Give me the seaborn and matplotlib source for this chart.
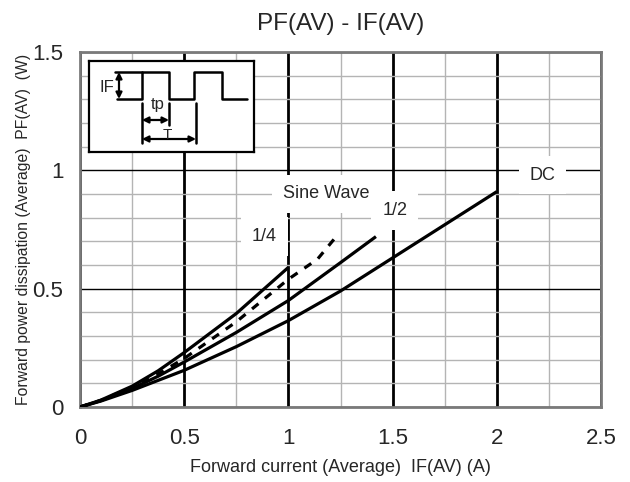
import matplotlib
matplotlib.use("Agg")
import matplotlib.pyplot as plt
import pandas as pd
import seaborn as sns
from matplotlib.ticker import FuncFormatter, MultipleLocator

# values
dc_x = [0, 0.1, 0.25, 0.5, 0.75, 1.0, 1.25, 1.5, 1.75, 2.0]
dc_y = [0, 0.025, 0.07, 0.155, 0.255, 0.365, 0.49, 0.63, 0.77, 0.91]

half_x = [0, 0.1, 0.25, 0.375, 0.5, 0.75, 1.0, 1.25, 1.42]
half_y = [0, 0.027, 0.078, 0.13, 0.19, 0.315, 0.45, 0.61, 0.72]

dashed_x = [0, 0.1, 0.25, 0.375, 0.5, 0.75, 1.0, 1.14, 1.22]
dashed_y = [0, 0.028, 0.083, 0.14, 0.205, 0.36, 0.54, 0.625, 0.71]

quarter_x = [0, 0.1, 0.25, 0.375, 0.5, 0.75, 1.0]
quarter_y = [0, 0.029, 0.088, 0.153, 0.23, 0.395, 0.59]

x_ticks = [0, 0.5, 1, 1.5, 2, 2.5]
y_ticks = [0, 0.5, 1, 1.5]

curve_labels = ["Sine Wave", "1/2", "1/4", "DC"]
label_x = [1.18, 1.51, 0.885, 2.22]
label_y = [0.90, 0.83, 0.72, 0.98]

sns.set_style("white")
plt.rcParams["font.family"] = ["Liberation Sans", "DejaVu Sans"]

fig = plt.figure(figsize=(6.3, 4.82), dpi=100)
ax = fig.add_axes([80 / 630, 1 - 407 / 482, 521 / 630, 355 / 482])

curves = [
    (dc_x, dc_y, "-"),
    (half_x, half_y, "-"),
    (dashed_x, dashed_y, (0, (2.6, 2.6))),
    (quarter_x, quarter_y, "-"),
]
for xs, ys, ls in curves:
    df = pd.DataFrame({"x": xs, "y": ys})
    sns.lineplot(data=df, x="x", y="y", ax=ax, color="black", lw=2.3,
                 linestyle=ls, solid_capstyle="butt", zorder=3, sort=False)

ax.set_xlim(0, 2.5)
ax.set_ylim(0, 1.5)
ax.set_xticks(x_ticks)
ax.set_yticks(y_ticks)
ax.xaxis.set_minor_locator(MultipleLocator(0.25))
ax.yaxis.set_minor_locator(MultipleLocator(0.1))
fmt = FuncFormatter(lambda v, p: f"{v:g}")
ax.xaxis.set_major_formatter(fmt)
ax.yaxis.set_major_formatter(fmt)
ax.tick_params(which="both", length=0, labelsize=16)
ax.tick_params(axis="x", pad=15)
ax.tick_params(axis="y", pad=12)

ax.xaxis.grid(True, which="major", color="black", lw=2.0)
ax.yaxis.grid(True, which="major", color="black", lw=1.0)
ax.grid(True, which="minor", color="#b4b4b4", lw=1.0)
ax.set_axisbelow(True)
for sp in ax.spines.values():
    sp.set_color("#7a7a7a")
    sp.set_linewidth(2)

for txt, tx, ty in zip(curve_labels, label_x, label_y):
    ax.text(tx, ty, txt, fontsize=13, ha="center", va="center", zorder=4,
            bbox=dict(boxstyle="square,pad=0.6", fc="white", ec="none"))

ax.set_title("PF(AV) - IF(AV)", fontsize=17.5, pad=16)
ax.set_xlabel("Forward current (Average)  IF(AV) (A)", fontsize=13, labelpad=7)
ax.set_ylabel("Forward power dissipation (Average)  PF(AV)  (W)", fontsize=11.3, labelpad=1)

# inset sketch of the waveform (pixel-like coordinates inside the box)
wave_x = [28, 53, 53, 80, 80, 105, 105, 133, 133, 158]
wave_y = [38, 38, 11, 11, 38, 38, 11, 11, 38, 38]

ins = fig.add_axes([89 / 630, 1 - 152 / 482, 165 / 630, 91 / 482])
ins.set_xlim(0, 165)
ins.set_ylim(91, 0)
ins.set_xticks([])
ins.set_yticks([])
ins.set_facecolor("white")
for sp in ins.spines.values():
    sp.set_color("black")
    sp.set_linewidth(1.6)
ins.plot(wave_x, wave_y, color="black", lw=1.8)
ins.plot([26, 53], [11, 11], color="black", lw=1.8)
ins.plot([53, 53], [42, 82], color="black", lw=1.8)
ins.plot([80, 80], [42, 64], color="black", lw=1.8)
ins.plot([107, 107], [42, 82], color="black", lw=1.8)
arrow = dict(arrowstyle="<|-|>", color="black", lw=1.6, mutation_scale=9,
             shrinkA=0, shrinkB=0)
ins.annotate("", xy=(30, 11), xytext=(30, 38), arrowprops=arrow)
ins.annotate("", xy=(53, 59), xytext=(80, 59), arrowprops=arrow)
ins.annotate("", xy=(53, 78), xytext=(107, 78), arrowprops=arrow)
ins.text(18, 27, "IF", fontsize=12, ha="center", va="center")
ins.text(69, 44, "tp", fontsize=12, ha="center", va="center")
ins.text(78, 81, "T", fontsize=11, ha="center", va="bottom")

fig.savefig("out.png", dpi=100)
